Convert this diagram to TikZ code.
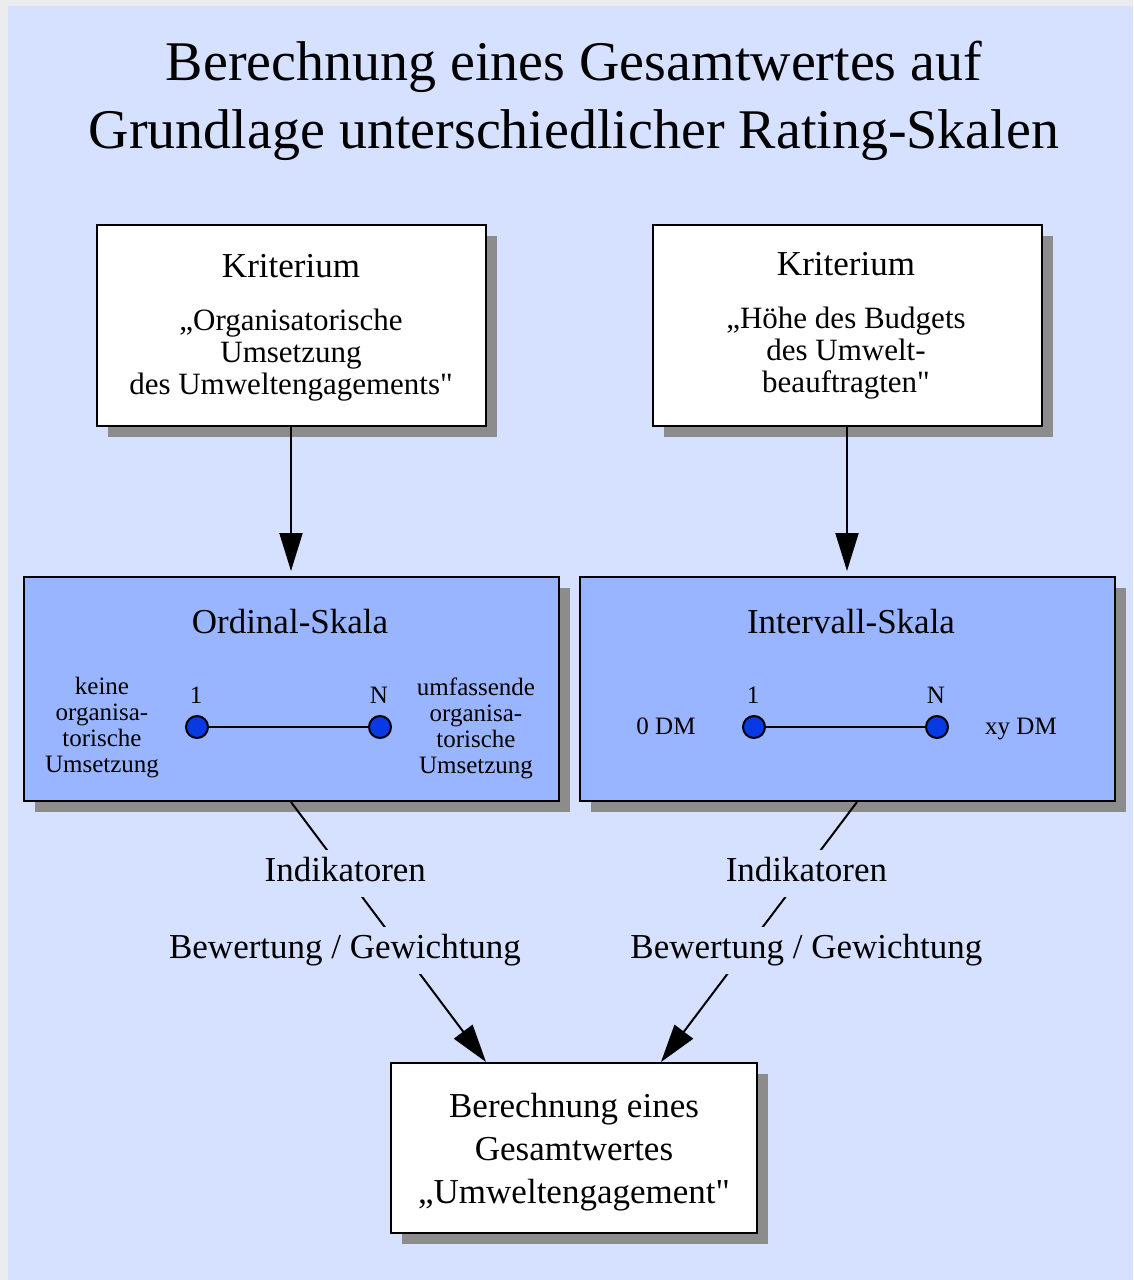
\documentclass[tikz,border=0pt]{standalone}
\usepackage{fontspec}
\setmainfont{Liberation Serif}[Ligatures=TeXOff]
\usetikzlibrary{arrows.meta,shadows}
\definecolor{bgblue}{RGB}{214,224,255}
\definecolor{scaleblue}{RGB}{153,181,255}
\definecolor{dotblue}{RGB}{8,58,228}
\definecolor{shadowgray}{RGB}{140,140,140}
\definecolor{margingray}{RGB}{236,236,238}
\tikzstyle{boxshadow} = [drop shadow={shadow xshift=11pt, shadow yshift=-11pt, fill=shadowgray, opacity=1}]
\tikzstyle{critbox} = [draw=black, line width=2pt, rectangle, fill=white, minimum width=389pt, minimum height=201pt, boxshadow]
\tikzstyle{scalebox} = [draw=black, line width=2pt, rectangle, fill=scaleblue, minimum width=535pt, minimum height=224pt, boxshadow]
\tikzstyle{resultbox} = [draw=black, line width=2pt, rectangle, fill=white, minimum width=366pt, minimum height=170pt, boxshadow]
\tikzstyle{titletext} = [align=center, inner sep=0pt, font=\fontsize{56}{68}\selectfont]
\tikzstyle{headtext} = [inner sep=0pt, font=\fontsize{35}{42}\selectfont]
\tikzstyle{bodytext} = [align=center, inner sep=0pt, font=\fontsize{31}{32}\selectfont]
\tikzstyle{smalltext} = [align=center, inner sep=0pt, font=\fontsize{25}{26}\selectfont]
\tikzstyle{dot} = [circle, draw=black, line width=2pt, fill=dotblue, minimum size=22pt, inner sep=0pt]
\tikzstyle{steplabel} = [fill=bgblue, inner xsep=4pt, inner ysep=7pt, text height=25pt, text depth=8pt, yshift=-4pt, font=\fontsize{35}{42}\selectfont]
\tikzstyle{arr} = [line width=2pt, -{Triangle[length=38pt,width=23pt]}]

\begin{document}
\begin{tikzpicture}[x=1pt,y=-1pt]
    \useasboundingbox (0,0) rectangle (1133,1280);
    \fill[margingray] (0,0) rectangle (1133,1280);
    \fill[bgblue] (8,6) rectangle (1133,1280);

    \node[titletext] (title) at (574,101) {Berechnung eines Gesamtwertes auf\\Grundlage unterschiedlicher Rating-Skalen};

    % Kriterien
    \node[critbox] (krit1) at (291,325) {};
    \node[headtext] (krit1head) at (291,266) {Kriterium};
    \node[bodytext] (krit1text) at (291,355) {„Organisatorische\\Umsetzung\\des Umweltengagements"};

    \node[critbox] (krit2) at (847,325) {};
    \node[headtext] (krit2head) at (846,264) {Kriterium};
    \node[bodytext] (krit2text) at (846,353) {„Höhe des Budgets\\des Umwelt-\\beauftragten"};

    % Skalen
    \node[scalebox] (ord) at (291,689) {};
    \node[headtext] (ordhead) at (290,622) {Ordinal-Skala};
    \node[dot] (ord1) at (197,727) {};
    \node[dot] (ordN) at (380,727) {};
    \draw[line width=2pt] (ord1) -- (ordN);
    \node[smalltext] (ord1lab) at (196,695) {1};
    \node[smalltext] (ordNlab) at (379,695) {N};
    \node[smalltext] (ordleft) at (102,728) {keine\\organisa-\\torische\\Umsetzung};
    \node[smalltext] (ordright) at (476,728) {umfassende\\organisa-\\torische\\Umsetzung};

    \node[scalebox] (int) at (847,689) {};
    \node[headtext] (inthead) at (851,622) {Intervall-Skala};
    \node[dot] (int1) at (754,727) {};
    \node[dot] (intN) at (937,727) {};
    \draw[line width=2pt] (int1) -- (intN);
    \node[smalltext] (int1lab) at (753,695) {1};
    \node[smalltext] (intNlab) at (936,695) {N};
    \node[smalltext, text depth=6pt] (intleft) at (666,729) {0 DM};
    \node[smalltext, text depth=6pt] (intright) at (1021,729) {xy DM};

    % Ergebnis
    \node[resultbox] (res) at (574,1148) {};
    \node[headtext, align=center, font=\fontsize{35}{43}\selectfont] (restext) at (574,1152) {Berechnung eines\\Gesamtwertes\\„Umweltengagement"};

    % Verbindungen
    \draw[arr, shorten >=5pt] (krit1.south) -- (ord.north);
    \draw[arr, shorten >=5pt] (krit2.south) -- (int.north);
    \draw[arr] (ord.south) -- node[steplabel, pos=0.258, xshift=4pt] (ind1) {Indikatoren}
        node[steplabel, pos=0.554, xshift=-54pt] (bew1) {Bewertung / Gewichtung} ([xshift=96pt]res.north west);
    \draw[arr] ([xshift=10pt]int.south) -- node[steplabel, pos=0.258] (ind2) {Indikatoren}
        node[steplabel, pos=0.554, xshift=58pt] (bew2) {Bewertung / Gewichtung} ([xshift=-97pt]res.north east);
\end{tikzpicture}
\end{document}
